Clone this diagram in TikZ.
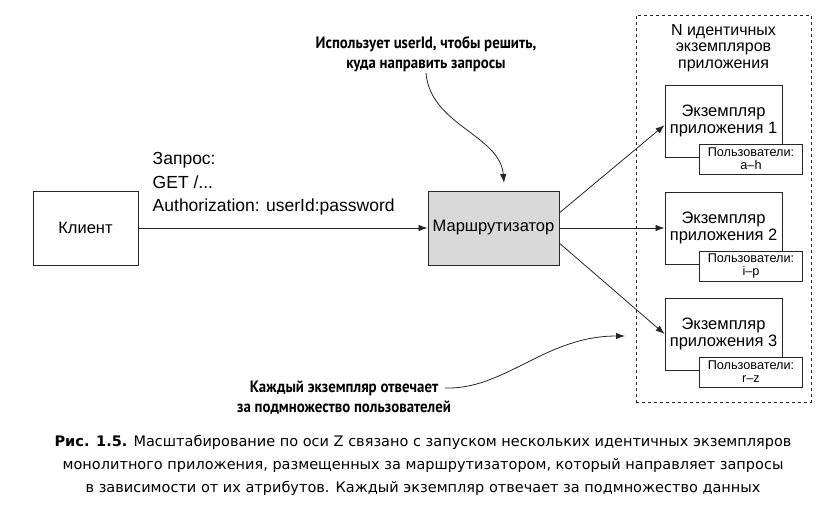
\documentclass[tikz,border=0pt]{standalone}
\usepackage{fontspec}
\setmainfont{Liberation Sans}
\newfontfamily\narrowfont{PT Sans}[FakeStretch=0.9]
\newfontfamily\captionfont{DejaVu Sans}
\usetikzlibrary{arrows.meta,positioning}

\begin{document}
\begin{tikzpicture}[
		x=1pt, y=-1pt,
		line width=0.8pt, draw=black!85,
		box/.style={draw, line width=0.9pt, font=\fontsize{16.5}{17}\selectfont, align=center},
		instbox/.style={box, minimum width=117pt, minimum height=72pt, inner sep=0pt},
		usersbox/.style={draw, fill=white, line width=0.9pt, minimum width=103pt, minimum height=30pt,
			inner sep=0pt, align=center, font=\fontsize{12.7}{13}\selectfont},
		note/.style={font=\narrowfont\bfseries\fontsize{16.5}{19.5}\selectfont, align=center, inner sep=1pt},
		arr/.style={-{Latex[length=9pt,width=6.5pt]}},
		]
		\useasboundingbox (0,0) rectangle (837,522);
		
		% Les blocs
		\node[box, minimum width=105pt, minimum height=74pt] (client) at (85.5,228) {Клиент};
		\node[box, fill=black!15, minimum width=131pt, minimum height=74pt, inner sep=1pt] (router) at (493.5,228) {Маршрутизатор};
		\node[draw, dashed, line width=0.8pt, minimum width=175pt, minimum height=387pt] (group) at (723.5,208.5) {};
		\node[font=\fontsize{16}{16.5}\selectfont, align=center] (grouptitle) at (723.5,48) {N идентичных\\экземпляров\\приложения};
		
		% Les exemplaires
		\node[instbox] (inst1) at (723.5,121) {Экземпляр\\приложения 1};
		\node[instbox] (inst2) at (723.5,228) {Экземпляр\\приложения 2};
		\node[instbox] (inst3) at (723.5,334) {Экземпляр\\приложения 3};
		\node[usersbox] (users1) at (751,159) {Пользователи:\\a--h};
		\node[usersbox] (users2) at (751,266) {Пользователи:\\i--p};
		\node[usersbox] (users3) at (751,372) {Пользователи:\\r--z};
		
		% La requete
		\node[anchor=west, align=left, font=\fontsize{17.5}{23.5}\selectfont] (request) at (149,184) {Запрос:\\GET /...\\Authorization: userId:password};
		
		% Les annotations
		\node[note] (usesnote) at (426,54) {Использует userId, чтобы решить,\\куда направить запросы};
		\coordinate (routertop) at (504,183);
		\node[note, inner sep=2pt] (eachnote) at (344,388) {Каждый экземпляр отвечает};
		\node[note, below=2pt of eachnote] (eachnote2) {за подмножество пользователей};
		\coordinate (eachtip) at (625,336);
		
		% Les fleches
		\draw[arr] (client) -- (router);
		\draw[arr] (router.13) -- (inst1.184);
		\draw[arr] (router) -- (inst2);
		\draw[arr] (router.-13) -- (inst3.west);
		\draw[arr] (usesnote.south) .. controls (430,125) and (500,135) .. (routertop);
		\draw[arr] ([xshift=4pt]eachnote.east) .. controls (505,390) and (545,336) .. (eachtip);
		
		% La legende
		\node[font=\captionfont\fontsize{14.5}{23}\selectfont, align=center] (caption) at (423,465)
		{\textbf{Рис. 1.5.} Масштабирование по оси Z связано с запуском нескольких идентичных экземпляров\\
			монолитного приложения, размещенных за маршрутизатором, который направляет запросы\\
			в зависимости от их атрибутов. Каждый экземпляр отвечает за подмножество данных};
\end{tikzpicture}
\end{document}
